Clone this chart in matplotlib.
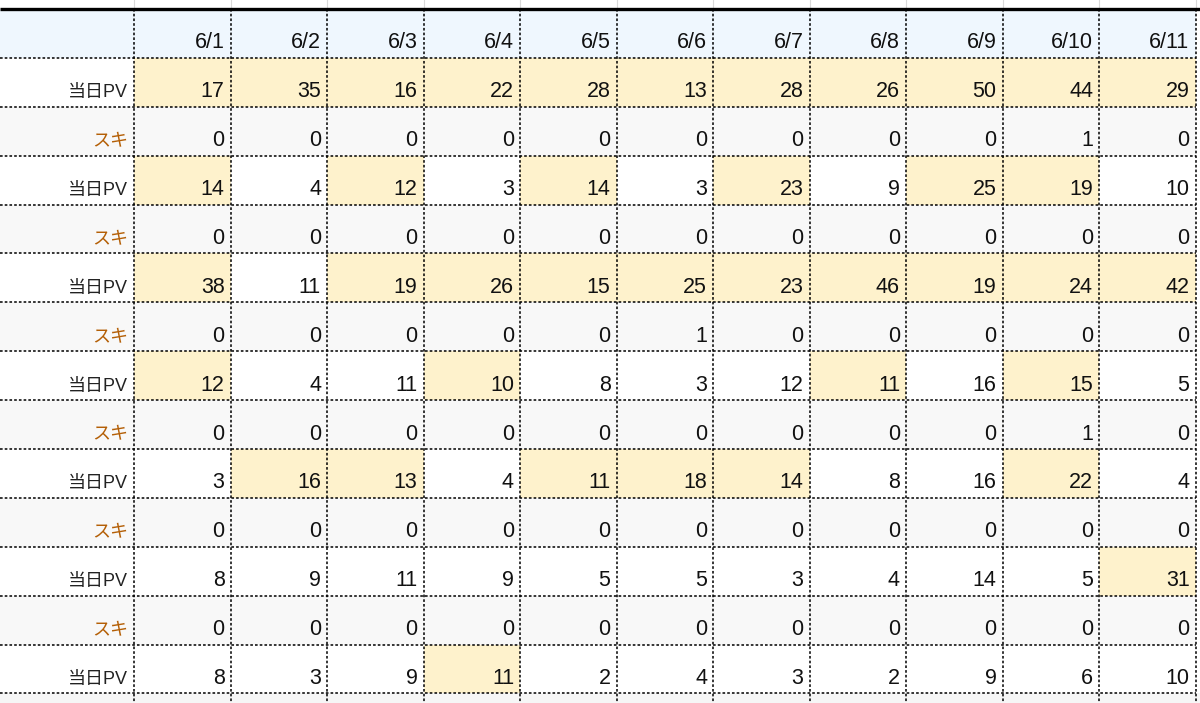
import matplotlib.pyplot as plt
from matplotlib.patches import Rectangle

plt.rcParams['lines.scale_dashes'] = False

# Data
dates = ["6/1", "6/2", "6/3", "6/4", "6/5", "6/6", "6/7", "6/8", "6/9", "6/10", "6/11"]
pv_label = "当日PV"
suki_label = "スキ"

pv_rows = [
    [17, 35, 16, 22, 28, 13, 28, 26, 50, 44, 29],
    [14, 4, 12, 3, 14, 3, 23, 9, 25, 19, 10],
    [38, 11, 19, 26, 15, 25, 23, 46, 19, 24, 42],
    [12, 4, 11, 10, 8, 3, 12, 11, 16, 15, 5],
    [3, 16, 13, 4, 11, 18, 14, 8, 16, 22, 4],
    [8, 9, 11, 9, 5, 5, 3, 4, 14, 5, 31],
    [8, 3, 9, 11, 2, 4, 3, 2, 9, 6, 10],
]
suki_rows = [
    [0, 0, 0, 0, 0, 0, 0, 0, 0, 1, 0],
    [0, 0, 0, 0, 0, 0, 0, 0, 0, 0, 0],
    [0, 0, 0, 0, 0, 1, 0, 0, 0, 0, 0],
    [0, 0, 0, 0, 0, 0, 0, 0, 0, 1, 0],
    [0, 0, 0, 0, 0, 0, 0, 0, 0, 0, 0],
    [0, 0, 0, 0, 0, 0, 0, 0, 0, 0, 0],
]
# yellow cells in the PV rows (1 = highlighted)
pv_highlight = [
    [1, 1, 1, 1, 1, 1, 1, 1, 1, 1, 1],
    [1, 0, 1, 0, 1, 0, 1, 0, 1, 1, 0],
    [1, 0, 1, 1, 1, 1, 1, 1, 1, 1, 1],
    [1, 0, 0, 1, 0, 0, 0, 1, 0, 1, 0],
    [0, 1, 1, 0, 1, 1, 1, 0, 0, 1, 0],
    [0, 0, 0, 0, 0, 0, 0, 0, 0, 0, 1],
    [0, 0, 0, 1, 0, 0, 0, 0, 0, 0, 0],
]

# interleave PV / スキ rows like the sheet
rows = []
for i, pv in enumerate(pv_rows):
    rows.append((pv_label, pv, pv_highlight[i]))
    if i < len(suki_rows):
        rows.append((suki_label, suki_rows[i], None))

# layout (pixels)
W, H = 1200, 703
label_w = 134
col_w = 96.5
top = 8.5
head_h = 49.3
row_h = 48.9

fonts = ['Liberation Sans', 'Noto Sans CJK JP']
header_bg = "#eff7fe"
yellow = "#fef2cc"
gray_row = "#f8f8f8"
suki_color = "#b45f06"

fig = plt.figure(figsize=(W / 100, H / 100), dpi=100)
ax = fig.add_axes([0, 0, 1, 1])
ax.set_xlim(0, W)
ax.set_ylim(H, 0)
ax.axis("off")

ncol = len(dates)
right = label_w + col_w * ncol
y_end = top + head_h + row_h * len(rows)

# backgrounds
ax.add_patch(Rectangle((0, y_end), W, H - y_end, color="#f6f6f6", lw=0))
ax.add_patch(Rectangle((0, top), right, head_h, color=header_bg, lw=0))
for r, (lab, vals, hl) in enumerate(rows):
    y0 = top + head_h + r * row_h
    if lab == suki_label:
        ax.add_patch(Rectangle((0, y0), right, row_h, color=gray_row, lw=0))
    if hl is not None:
        for c, h in enumerate(hl):
            if h:
                ax.add_patch(Rectangle((label_w + c * col_w, y0), col_w, row_h,
                                       color=yellow, lw=0))

# faint solid column lines above the frame
for c in range(ncol + 1):
    x = label_w + c * col_w
    ax.plot([x, x], [0, top], color="#d9d9d9", lw=0.8)

# dotted grid
dots = (0, (1.9, 1.5))
for c in range(ncol + 1):
    x = label_w + c * col_w
    ax.plot([x, x], [top, H], color="black", lw=1.1, ls=dots)
for r in range(len(rows) + 1):
    y = top + head_h + r * row_h
    ax.plot([0, right], [y, y], color="black", lw=1.1, ls=dots)

# thick top border
ax.plot([0, W], [top, top], color="black", lw=2.4, solid_capstyle="butt")

# header text
for c, d in enumerate(dates):
    ax.text(label_w + (c + 1) * col_w - 6, top + head_h - 9.5, d,
            ha="right", va="baseline", fontsize=15.5, family=fonts, color="#111111")

# body text
for r, (lab, vals, hl) in enumerate(rows):
    yb = top + head_h + (r + 1) * row_h - 9.5
    ax.text(label_w - 6, yb, lab, ha="right", va="baseline", fontsize=13,
            family=fonts, color=suki_color if lab == suki_label else "#222222")
    for c, v in enumerate(vals):
        ax.text(label_w + (c + 1) * col_w - 6, yb, str(v), ha="right",
                va="baseline", fontsize=15.5, family=fonts, color="#111111")

fig.savefig("out.png", dpi=100)
